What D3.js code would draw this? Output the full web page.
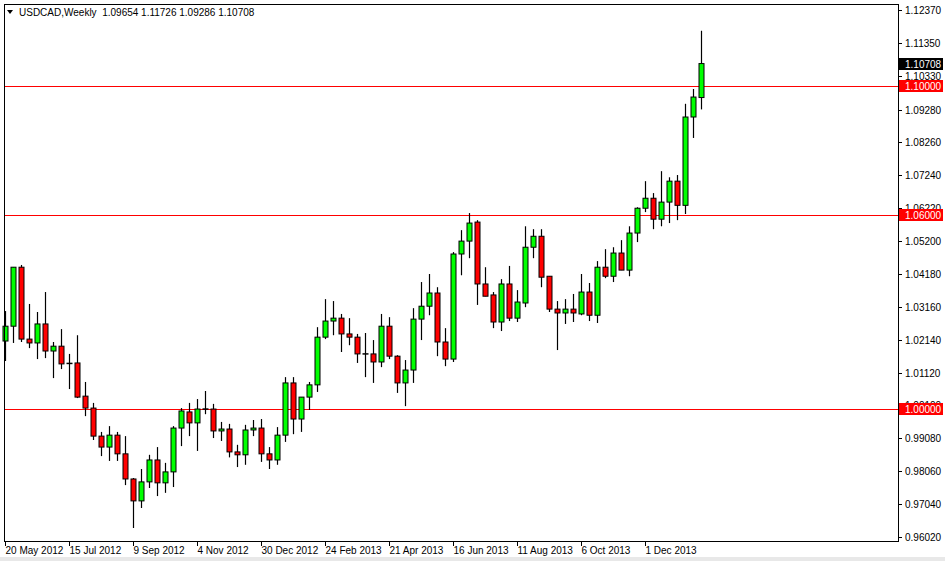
<!DOCTYPE html>
<html><head><meta charset="utf-8">
<script src="https://cdn.jsdelivr.net/npm/d3@7"></script>
<style>body{margin:0;background:#fff;} svg{display:block;font-family:"Liberation Sans",Arial,sans-serif;}</style>
</head><body>
<svg id="c" width="945" height="561"></svg>
<script>
const opens=[1.0210,1.0256,1.0439,1.0216,1.0204,1.0263,1.0179,1.0194,1.0142,1.0142,1.0039,1.0002,0.9915,0.9881,0.9918,0.9860,0.9782,0.9714,0.9773,0.9841,0.9770,0.9804,0.9940,0.9990,0.9956,0.9999,0.9999,0.9931,0.9937,0.9866,0.9857,0.9934,0.9940,0.9860,0.9841,0.9918,1.0080,0.9968,1.0036,1.0074,1.0222,1.0272,1.0281,1.0232,1.0222,1.0170,1.0170,1.0145,1.0256,1.0163,1.0080,1.0120,1.0278,1.0318,1.0359,1.0207,1.0154,1.0480,1.0520,1.0579,1.0387,1.0353,1.0269,1.0387,1.0281,1.0328,1.0501,1.0535,1.0411,1.0309,1.0297,1.0309,1.0294,1.0362,1.0290,1.0439,1.0411,1.0483,1.0430,1.0545,1.0622,1.0653,1.0588,1.0641,1.0706,1.0631,1.0905,1.09654];
const highs=[1.0303,1.0439,1.0446,1.0325,1.0300,1.0362,1.0207,1.0247,1.0170,1.0228,1.0083,1.0018,0.9928,0.9946,0.9928,0.9915,0.9785,0.9813,0.9857,0.9881,0.9832,0.9946,1.0002,1.0018,1.0030,1.0055,1.0015,0.9959,0.9953,0.9888,0.9950,0.9965,0.9968,0.9881,0.9943,1.0098,1.0098,1.0036,1.0083,1.0253,1.0340,1.0334,1.0294,1.0281,1.0232,1.0235,1.0213,1.0294,1.0284,1.0166,1.0151,1.0312,1.0393,1.0418,1.0377,1.0250,1.0486,1.0554,1.0607,1.0585,1.0439,1.0362,1.0402,1.0443,1.0368,1.0566,1.0557,1.0557,1.0411,1.0334,1.0340,1.0356,1.0418,1.0390,1.0458,1.0495,1.0501,1.0523,1.0566,1.0625,1.0706,1.0669,1.0737,1.0718,1.0725,1.0946,1.0992,1.11726];
const lows=[1.0148,1.0204,1.0207,1.0188,1.0154,1.0157,1.0095,1.0123,1.0061,1.0033,0.9977,0.9903,0.9853,0.9838,0.9838,0.9763,0.9630,0.9692,0.9754,0.9729,0.9739,0.9757,0.9884,0.9915,0.9869,0.9983,0.9909,0.9900,0.9849,0.9819,0.9826,0.9915,0.9835,0.9813,0.9826,0.9897,0.9921,0.9928,0.9996,1.0052,1.0216,1.0228,1.0176,1.0197,1.0142,1.0098,1.0080,1.0129,1.0154,1.0049,1.0008,1.0080,1.0213,1.0290,1.0163,1.0132,1.0145,1.0414,1.0467,1.0322,1.0349,1.0250,1.0241,1.0272,1.0269,1.0315,1.0467,1.0377,1.0300,1.0182,1.0263,1.0269,1.0290,1.0272,1.0266,1.0405,1.0393,1.0430,1.0411,1.0517,1.0610,1.0557,1.0566,1.0576,1.0585,1.0604,1.0840,1.09286];
const closes=[1.0256,1.0439,1.0216,1.0204,1.0263,1.0179,1.0194,1.0139,1.0139,1.0036,1.0002,0.9915,0.9881,0.9918,0.9860,0.9782,0.9714,0.9773,0.9841,0.9770,0.9804,0.9940,0.9993,0.9956,0.9999,0.9999,0.9931,0.9937,0.9866,0.9857,0.9934,0.9940,0.9860,0.9841,0.9918,1.0080,0.9968,1.0036,1.0074,1.0222,1.0272,1.0281,1.0232,1.0222,1.0170,1.0170,1.0145,1.0256,1.0163,1.0080,1.0120,1.0278,1.0318,1.0359,1.0207,1.0154,1.0480,1.0520,1.0576,1.0387,1.0349,1.0269,1.0387,1.0281,1.0331,1.0501,1.0535,1.0408,1.0309,1.0297,1.0309,1.0297,1.0362,1.0290,1.0439,1.0411,1.0483,1.0430,1.0545,1.0622,1.0653,1.0588,1.0641,1.0706,1.0631,1.0905,1.0967,1.10708];
const dateLabels=["20 May 2012","15 Jul 2012","9 Sep 2012","4 Nov 2012","30 Dec 2012","24 Feb 2013","21 Apr 2013","16 Jun 2013","11 Aug 2013","6 Oct 2013","1 Dec 2013"];
const priceTicks=["1.12370","1.11350","1.10330","1.09280","1.08260","1.07240","1.06220","1.05200","1.04180","1.03160","1.02140","1.01120","1.00100","0.99080","0.98060","0.97040","0.96020"];
const levels=[1.10000,1.06000,1.00000];
const lastPrice=1.10708;
const header="USDCAD,Weekly  1.09654 1.11726 1.09286 1.10708";

const svg=d3.select("#c");
const L=4,R=898,T=4,B=541;
const x=d3.scaleLinear().domain([0,87]).range([5,701]);
const y=d3.scaleLinear().domain([0.96020,1.12370]).range([537,10]);
const FS=10;

svg.append("rect").attr("x",0).attr("y",0).attr("width",945).attr("height",561).attr("fill","#fff");
svg.append("rect").attr("x",0).attr("y",557).attr("width",945).attr("height",4).attr("fill","#e8e8e8");

levels.forEach(v=>{
  svg.append("line").attr("x1",L).attr("x2",R).attr("y1",Math.round(y(v))+0.5).attr("y2",Math.round(y(v))+0.5).attr("stroke","#ff0000");
});

const g=svg.append("g");
closes.forEach((c,i)=>{
  const cx=Math.round(x(i))+0.5;
  g.append("line").attr("x1",cx).attr("x2",cx).attr("y1",y(highs[i])).attr("y2",y(lows[i])).attr("stroke","#000").attr("stroke-width",1.2);
  const o=opens[i];
  const top=y(Math.max(o,c)), bot=y(Math.min(o,c));
  if(Math.abs(bot-top)<1.5){
    g.append("line").attr("x1",cx-3).attr("x2",cx+3).attr("y1",(top+bot)/2).attr("y2",(top+bot)/2).attr("stroke","#000").attr("stroke-width",1.5);
  } else {
    g.append("rect").attr("x",cx-2.5).attr("y",top).attr("width",5).attr("height",bot-top)
      .attr("fill",c>=o?"#00ff00":"#ff0000").attr("stroke","#000").attr("stroke-width",1);
  }
});

svg.append("rect").attr("x",L+0.5).attr("y",T+0.5).attr("width",R-L).attr("height",B-T).attr("fill","none").attr("stroke","#000");

priceTicks.forEach(t=>{
  const yy=y(+t);
  svg.append("line").attr("x1",R).attr("x2",R+4).attr("y1",Math.round(yy)+0.5).attr("y2",Math.round(yy)+0.5).attr("stroke","#000");
  svg.append("text").attr("x",905).attr("y",yy+4).attr("font-size",FS).attr("fill","#000").text(t);
});
function tag(v,bg){
  const yy=Math.round(y(v));
  svg.append("rect").attr("x",899).attr("y",yy-6).attr("width",44).attr("height",12).attr("fill",bg);
  svg.append("text").attr("x",905).attr("y",yy+4).attr("font-size",FS).attr("fill","#fff").text(v.toFixed(5));
}
levels.forEach(v=>tag(v,"#ff0000"));
tag(lastPrice,"#000");

dateLabels.forEach((d,k)=>{
  const xx=Math.round(x(k*8))+0.5;
  svg.append("line").attr("x1",xx).attr("x2",xx).attr("y1",B).attr("y2",B+5).attr("stroke","#000");
  svg.append("text").attr("x",xx).attr("y",554).attr("font-size",FS).attr("fill","#000").text(d);
});

svg.append("path").attr("d","M7,10 L13,10 L10,14 Z").attr("fill","#000");
svg.append("text").attr("x",19).attr("y",16).attr("font-size",FS).attr("fill","#000").attr("xml:space","preserve").text(header);
</script>
</body></html>
